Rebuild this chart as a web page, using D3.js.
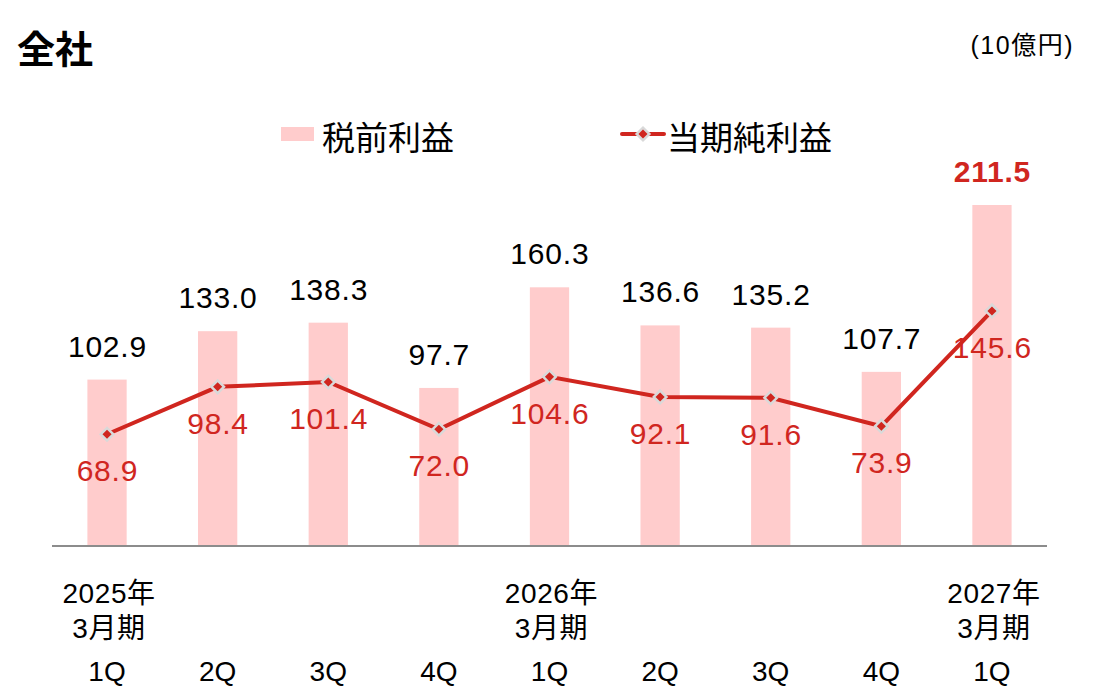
<!DOCTYPE html>
<html>
<head>
<meta charset="utf-8">
<script src="https://cdn.jsdelivr.net/npm/d3@7"></script>
<style>
  body { margin: 0; background: #fff; }
  svg text { font-family: Arial, "Liberation Sans", "Noto Sans CJK JP", sans-serif; }
</style>
</head>
<body>
<div id="chart"></div>
<script>
const quarters = ["1Q", "2Q", "3Q", "4Q", "1Q", "2Q", "3Q", "4Q", "1Q"];
const yearLabels = ["2025年\n3月期", "", "", "", "2026年\n3月期", "", "", "", "2027年\n3月期"];
const pretaxProfit = [102.9, 133.0, 138.3, 97.7, 160.3, 136.6, 135.2, 107.7, 211.5];
const netProfit = [68.9, 98.4, 101.4, 72.0, 104.6, 92.1, 91.6, 73.9, 145.6];

const width = 1109, height = 696;
const baseY = 545, left = 52, right = 1047;
const red = "#d0261f", pink = "#ffcccc";
const ls = 0.8; // reference text is set a bit wide

const svg = d3.select("#chart").append("svg")
  .attr("width", width).attr("height", height);

const idx = quarters.map((d, i) => i);
const x = d3.scaleBand().domain(idx).range([left, right]).paddingInner(0.645).paddingOuter(0.32);
const y = d3.scaleLinear().domain([0, 211.5]).range([baseY, 205]);
const cx = (i) => x(i) + x.bandwidth() / 2;

// title + unit
svg.append("text").attr("x", 17).attr("y", 63).attr("font-size", 38).attr("font-weight", "bold")
  .attr("font-family", "'Noto Sans CJK JP', sans-serif").text("全社");
svg.append("text").attr("x", 1074).attr("y", 54).attr("text-anchor", "end").attr("font-size", 25)
  .attr("letter-spacing", 1.5).text("(10億円)");

// bars
svg.append("g").selectAll("rect").data(pretaxProfit).join("rect")
  .attr("x", (d, i) => x(i)).attr("width", x.bandwidth())
  .attr("y", (d) => y(d)).attr("height", (d) => baseY - y(d))
  .attr("fill", pink);

// axis line
svg.append("line").attr("x1", left).attr("x2", right).attr("y1", baseY + 1).attr("y2", baseY + 1)
  .attr("stroke", "#8c8c8c").attr("stroke-width", 2);

// bar labels
const last = pretaxProfit.length - 1;
svg.append("g").selectAll("text").data(pretaxProfit).join("text")
  .attr("x", (d, i) => cx(i) + ls / 2).attr("y", (d) => y(d) - 23)
  .attr("text-anchor", "middle").attr("font-size", 30).attr("letter-spacing", ls)
  .attr("fill", (d, i) => i === last ? red : "#000")
  .attr("font-weight", (d, i) => i === last ? "bold" : "normal")
  .text((d) => d.toFixed(1));

// line
const line = d3.line().x((d, i) => cx(i)).y((d) => y(d));
svg.append("path").datum(netProfit).attr("d", line)
  .attr("fill", "none").attr("stroke", red).attr("stroke-width", 4);

const marker = d3.symbol().type(d3.symbolSquare).size(80);
svg.append("g").selectAll("path").data(netProfit).join("path")
  .attr("transform", (d, i) => `translate(${cx(i)},${y(d)}) rotate(45)`)
  .attr("d", marker)
  .attr("fill", red).attr("stroke", "#d9d9d9").attr("stroke-width", 2.5);

// line labels
svg.append("g").selectAll("text").data(netProfit).join("text")
  .attr("x", (d, i) => cx(i) + ls / 2).attr("y", (d) => y(d) + 47)
  .attr("text-anchor", "middle").attr("font-size", 30).attr("letter-spacing", ls).attr("fill", red)
  .text((d) => d.toFixed(1));

// x labels
const xl = svg.append("g").attr("font-size", 28);
yearLabels.forEach((lab, i) => {
  if (!lab) return;
  lab.split("\n").forEach((ln, k) => {
    xl.append("text").attr("x", cx(i) + 2).attr("y", 603 + k * 35).attr("text-anchor", "middle")
      .attr("letter-spacing", 0.6).text(ln);
  });
});
xl.selectAll("text.q").data(quarters).join("text").attr("class", "q")
  .attr("x", (d, i) => cx(i)).attr("y", 681).attr("text-anchor", "middle").text((d) => d);

// legend
const lg = svg.append("g").attr("font-size", 33);
lg.append("rect").attr("x", 281).attr("y", 127).attr("width", 33).attr("height", 14).attr("fill", pink);
lg.append("text").attr("x", 322).attr("y", 150).text("税前利益");
lg.append("line").attr("x1", 622).attr("x2", 664).attr("y1", 134).attr("y2", 134)
  .attr("stroke", red).attr("stroke-width", 4).attr("stroke-linecap", "round");
lg.append("path").attr("transform", "translate(643,134) rotate(45)")
  .attr("d", marker)
  .attr("fill", red).attr("stroke", "#d9d9d9").attr("stroke-width", 2.5);
lg.append("text").attr("x", 667).attr("y", 150).text("当期純利益");
</script>
</body>
</html>
